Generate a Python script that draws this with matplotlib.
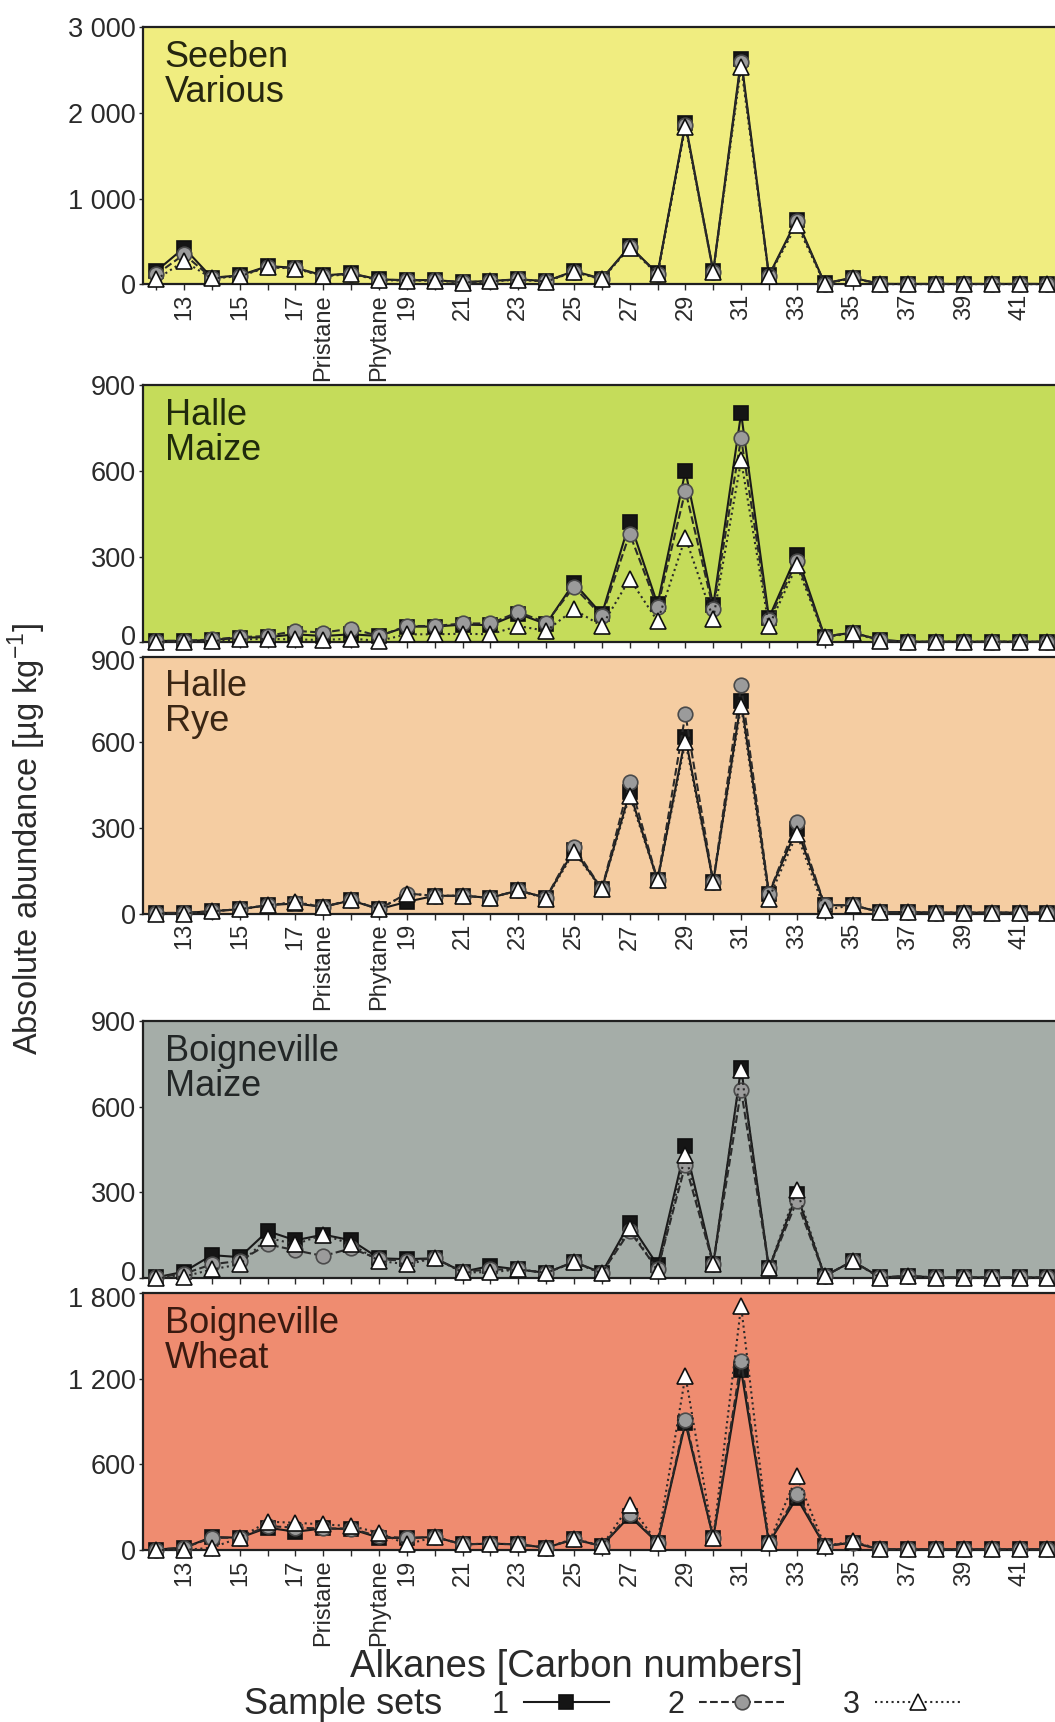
import matplotlib
matplotlib.use("Agg")
import matplotlib.pyplot as plt
from matplotlib.lines import Line2D
from matplotlib.transforms import ScaledTranslation

plt.rcParams['font.family'] = ['Liberation Sans', 'DejaVu Sans']
plt.rcParams['mathtext.fontset'] = 'custom'
plt.rcParams['mathtext.rm'] = 'Liberation Sans'

# ---------------- data ----------------
categories = ['12', '13', '14', '15', '16', '17', 'Pristane', '18', 'Phytane',
              '19', '20', '21', '22', '23', '24', '25', '26', '27', '28', '29',
              '30', '31', '32', '33', '34', '35', '36', '37', '38', '39', '40',
              '41', '42']
shown_ticks = ['13', '15', '17', 'Pristane', 'Phytane', '19', '21', '23', '25',
               '27', '29', '31', '33', '35', '37', '39', '41']

panel_names = ['Seeben\nVarious', 'Halle\nMaize', 'Halle\nRye',
               'Boigneville\nMaize', 'Boigneville\nWheat']
series_names = ['1', '2', '3']

seeben_1 = [155, 427, 78, 105, 213, 194, 105, 128, 58, 50, 50, 27, 40, 60, 38, 155, 66,
            446, 128, 1880, 155, 2636, 105, 756, 12, 78, 5, 5, 5, 5, 5, 5, 5]
seeben_2 = [116, 350, 75, 100, 205, 190, 100, 125, 55, 48, 48, 25, 38, 58, 36, 150, 62,
            440, 122, 1860, 150, 2600, 100, 735, 10, 75, 5, 5, 5, 5, 5, 5, 5]
seeben_3 = [58, 271, 70, 95, 200, 185, 95, 120, 50, 45, 45, 22, 35, 55, 33, 145, 58,
            430, 118, 1840, 145, 2540, 95, 698, 8, 70, 3, 3, 3, 3, 3, 3, 3]

hmaize_1 = [5, 5, 8, 16, 18, 28, 22, 28, 22, 55, 55, 62, 60, 100, 64, 208, 98,
            423, 133, 600, 129, 802, 86, 307, 20, 34, 8, 2, 2, 2, 2, 2, 2]
hmaize_2 = [5, 5, 10, 18, 22, 40, 34, 48, 22, 57, 57, 66, 66, 106, 69, 194, 92,
            380, 123, 531, 118, 715, 78, 284, 20, 34, 8, 2, 2, 2, 2, 2, 2]
hmaize_3 = [2, 2, 5, 10, 12, 10, 8, 13, 5, 28, 28, 30, 28, 57, 40, 115, 57,
            222, 74, 367, 83, 637, 57, 269, 18, 32, 6, 2, 2, 2, 2, 2, 2]

hrye_1 = [2, 2, 8, 15, 29, 35, 23, 46, 15, 41, 62, 62, 55, 81, 55, 222, 85,
          425, 116, 617, 110, 745, 70, 297, 29, 29, 5, 5, 3, 3, 3, 3, 3]
hrye_2 = [2, 2, 8, 15, 29, 38, 23, 48, 15, 70, 62, 62, 55, 81, 55, 233, 85,
          462, 116, 698, 110, 799, 70, 320, 29, 29, 5, 5, 3, 3, 3, 3, 3]
hrye_3 = [0, 0, 8, 15, 29, 40, 23, 48, 15, 70, 62, 62, 55, 81, 52, 215, 85,
          413, 116, 601, 110, 727, 52, 279, 12, 29, 5, 5, 3, 3, 3, 3, 3]

bmaize_1 = [2, 22, 80, 73, 164, 132, 152, 132, 69, 66, 69, 22, 42, 30, 18, 57, 18,
            193, 45, 461, 48, 736, 34, 293, 7, 59, 2, 7, 2, 2, 2, 2, 2]
bmaize_2 = [2, 15, 48, 60, 118, 97, 77, 104, 66, 60, 69, 22, 30, 30, 18, 55, 18,
            164, 30, 397, 48, 658, 34, 269, 7, 59, 2, 7, 2, 2, 2, 2, 2]
bmaize_3 = [0, 5, 30, 48, 141, 118, 152, 118, 60, 48, 69, 20, 20, 30, 18, 55, 16,
            176, 25, 432, 48, 728, 34, 309, 7, 59, 0, 7, 0, 0, 0, 0, 0]

bwheat_1 = [3, 16, 91, 86, 156, 128, 151, 147, 86, 84, 91, 40, 44, 40, 16, 75, 28,
            237, 51, 889, 86, 1261, 51, 365, 28, 51, 5, 5, 5, 5, 5, 5, 5]
bwheat_2 = [3, 16, 85, 86, 168, 156, 151, 150, 95, 84, 91, 40, 44, 40, 16, 75, 28,
            254, 51, 912, 86, 1324, 51, 393, 28, 51, 5, 5, 5, 5, 5, 5, 5]
bwheat_3 = [0, 0, 16, 86, 198, 191, 179, 168, 121, 40, 91, 40, 44, 40, 16, 80, 28,
            314, 51, 1221, 86, 1710, 51, 516, 28, 60, 5, 5, 5, 5, 5, 5, 5]

panel_series = [
    [seeben_1, seeben_2, seeben_3],
    [hmaize_1, hmaize_2, hmaize_3],
    [hrye_1, hrye_2, hrye_3],
    [bmaize_1, bmaize_2, bmaize_3],
    [bwheat_1, bwheat_2, bwheat_3],
]
y_ticks = [[0, 1000, 2000, 3000], [0, 300, 600, 900], [0, 300, 600, 900],
           [0, 300, 600, 900], [0, 600, 1200, 1800]]
y_ticklabels = [['0', '1 000', '2 000', '3 000'], ['0', '300', '600', '900'],
                ['0', '300', '600', '900'], ['0', '300', '600', '900'],
                ['0', '600', '1 200', '1 800']]

# ---------------- styles ----------------
W, H = 1055, 1722
bg_colors = ['#F0ED80', '#C5DC5A', '#F5CDA2', '#A5ADA8', '#EF8C70']
label_colors = ['#26260f', '#1f2a0c', '#3a2614', '#222626', '#3a1a10']
show_xlabels = [True, False, True, False, True]
panel_tops = [27.4, 385.3, 656.5, 1021.0, 1293.0]
panel_h = 257.0
left_px = 142.7
# panels whose bottom "0" label sits right above the next panel's top label
tight_below = [False, True, False, True, False]

styles = [
    dict(ls='-', marker='s', mfc='#151515', mec='#101010', ms=10.5, zorder=3, color='#1a1a1a'),
    dict(ls='--', marker='o', mfc='#9b9b9b', mec='#4a4a4a', ms=10.5, zorder=4, color='#2a2a2a'),
    dict(ls=':', marker='^', mfc='white', mec='#101010', ms=11.5, zorder=5, color='#2a2a2a'),
]

fig = plt.figure(figsize=(W / 100, H / 100), dpi=100)
x = list(range(len(categories)))
xt_labels = [c if c in shown_ticks else '' for c in categories]

for i in range(5):
    top = panel_tops[i]
    ax = fig.add_axes([left_px / W, 1 - (top + panel_h) / H, (W - left_px) / W, panel_h / H])
    ax.set_facecolor(bg_colors[i])
    for s, st in zip(panel_series[i], styles):
        ax.plot(x, s, linestyle=st['ls'], color=st['color'], lw=1.5,
                marker=st['marker'], markerfacecolor=st['mfc'], markeredgecolor=st['mec'],
                markeredgewidth=1.2, markersize=st['ms'], zorder=st['zorder'], clip_on=False)
    ax.set_xlim(-0.485, 32.27)
    ax.set_ylim(0, y_ticks[i][-1])
    ax.set_yticks(y_ticks[i])
    ax.set_yticklabels(y_ticklabels[i])
    ax.set_xticks(x)
    if show_xlabels[i]:
        ax.set_xticklabels(xt_labels, rotation=90, fontsize=17, color='#2a2a2a')
    else:
        ax.set_xticklabels([])
    ax.tick_params(axis='y', direction='out', length=3, width=1, labelsize=19.5,
                   colors='#2a2a2a', pad=2)
    ax.tick_params(axis='x', direction='out', length=4, width=1, colors='#2a2a2a', pad=3)
    ax.spines['right'].set_visible(False)
    for sp in ['left', 'top', 'bottom']:
        ax.spines[sp].set_color('#202020')
        ax.spines[sp].set_linewidth(1.6)
    yt = ax.yaxis.get_major_ticks()
    if tight_below[i]:
        lab = yt[0].label1
        lab.set_transform(lab.get_transform() + ScaledTranslation(0, 7 / 100, fig.dpi_scale_trans))
    if i > 0 and tight_below[i - 1]:
        lab = yt[-1].label1
        lab.set_transform(lab.get_transform() + ScaledTranslation(0, -4 / 100, fig.dpi_scale_trans))
    ax.text(0.024, 0.95, panel_names[i], transform=ax.transAxes, ha='left', va='top',
            fontsize=26, color=label_colors[i], linespacing=1.0)

fig.text(27.4 / W, 1 - 839 / H, r'Absolute abundance [µg kg$^{\mathregular{-1}}$]',
         rotation=90, ha='center', va='center', fontsize=23.5, color='#2a2a2a')
fig.text(576 / W, 1 - 1667 / H, 'Alkanes [Carbon numbers]', ha='center', va='center',
         fontsize=27.5, color='#2a2a2a')
fig.text(244 / W, 1 - 1704 / H, 'Sample sets', ha='left', va='center',
         fontsize=26, color='#2a2a2a')

handles = [Line2D([], [], linestyle=st['ls'], color=st['color'], lw=1.5,
                  marker=st['marker'], markerfacecolor=st['mfc'],
                  markeredgecolor=st['mec'], markeredgewidth=1.2, markersize=st['ms'])
           for st in styles]
fig.legend(handles, series_names, markerfirst=False, ncol=3, frameon=False,
           fontsize=22, handlelength=2.8, handletextpad=0.5, columnspacing=1.9,
           loc='center', bbox_to_anchor=(726 / W, 1 - 1705 / H), borderpad=0,
           labelcolor='#2a2a2a')

fig.savefig('out.png', dpi=100)
